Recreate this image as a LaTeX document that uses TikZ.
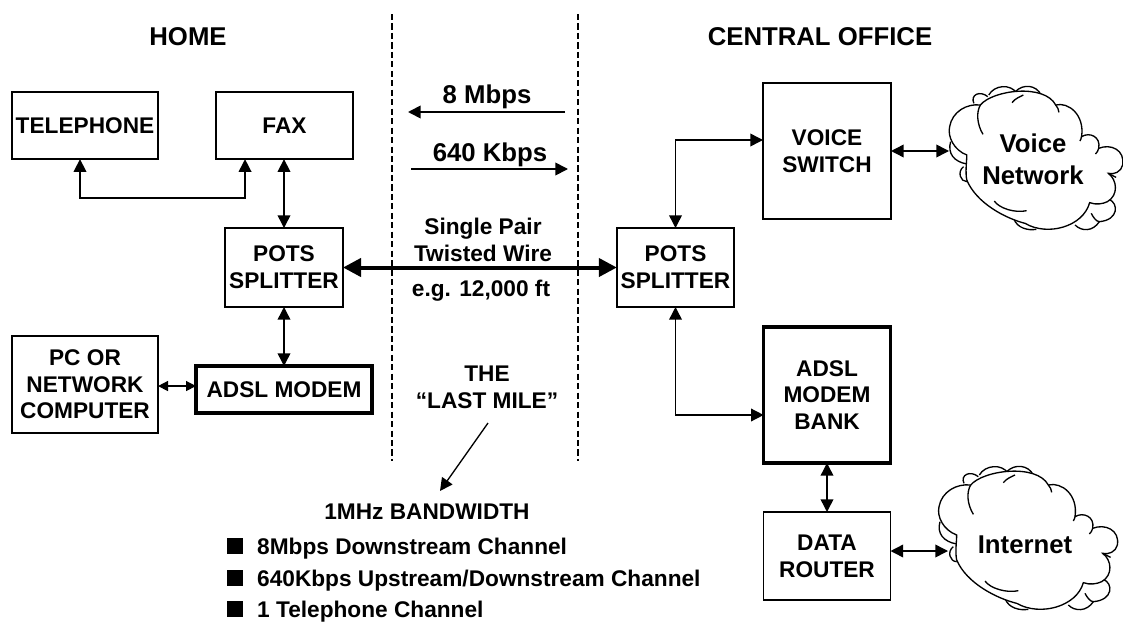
\documentclass[tikz,border=0pt]{standalone}
\usepackage{fontspec}
\setmainfont{Liberation Sans}
\usetikzlibrary{arrows.meta, positioning}

\tikzset{
    cloudpic/.pic={
        \begin{scope}[x=0.25pt, y=-0.25pt, line width=1pt, fill=white]
        % Lobulos de fondo
        \draw (672,190) .. controls (660,165) and (690,150) .. (715,170);
        \draw (718,165) .. controls (735,135) and (785,130) .. (805,160);
        \draw (800,155) .. controls (825,130) and (865,135) .. (880,165);
        \draw (600,305) .. controls (590,340) and (610,365) .. (650,372);
        \draw (640,380) .. controls (620,395) and (630,425) .. (650,425);
        \draw (795,535) .. controls (805,565) and (840,572) .. (865,568);
        \draw (985,555) .. controls (1005,575) and (1040,575) .. (1060,545);
        \draw (1090,478) .. controls (1120,490) and (1120,540) .. (1060,545) .. controls (1050,545) and (1040,530) .. (1035,520);
        % Cuerpo
        \filldraw (650,345) .. controls (610,330) and (590,290) .. (597,260)
            .. controls (605,215) and (650,190) .. (692,195)
            .. controls (730,150) and (890,130) .. (925,195)
            .. controls (965,185) and (1015,225) .. (1005,290)
            .. controls (1030,275) and (1065,290) .. (1058,325)
            .. controls (1095,310) and (1140,330) .. (1132,375)
            .. controls (1128,395) and (1105,405) .. (1088,400)
            .. controls (1115,420) and (1120,465) .. (1085,485)
            .. controls (1070,492) and (1050,495) .. (1030,488)
            .. controls (1010,560) and (900,590) .. (830,550)
            .. controls (770,535) and (680,490) .. (650,420)
            .. controls (645,395) and (650,365) .. (650,345) -- cycle;
        % Detalles
        \draw (700,283) .. controls (680,250) and (680,215) .. (692,195);
        \draw (790,188) .. controls (800,175) and (815,170) .. (825,165);
        \draw (925,195) .. controls (930,200) and (935,210) .. (935,217);
        \draw (1005,290) .. controls (1004,295) and (1002,300) .. (1000,303);
        \draw (1058,325) .. controls (1056,332) and (1053,338) .. (1048,342);
        \draw (1088,400) .. controls (1095,405) and (1105,408) .. (1112,412);
        \draw (735,483) .. controls (750,505) and (800,520) .. (835,512);
        \end{scope}
    }
}

\begin{document}
\begin{tikzpicture}[
    x=0.75pt, y=-0.75pt,
    >={Triangle[length=9.5pt, width=9.5pt]},
    font=\bfseries\fontsize{17}{20}\selectfont,
    box/.style={draw, rectangle, align=center, inner sep=0pt, outer sep=0pt, line width=1.1pt},
    thickbox/.style={box, line width=2.6pt},
    label/.style={align=center, inner sep=0pt},
    biglabel/.style={label, font=\bfseries\fontsize{19.3}{24}\selectfont},
    bullet/.style={fill=black, inner sep=0pt, minimum size=11.5pt},
    listitem/.style={label, text depth=0pt},
    arrow/.style={<->, line width=1.1pt},
    smallarrow/.style={{Triangle[length=7.5pt, width=7.5pt]}-{Triangle[length=7.5pt, width=7.5pt]}, line width=1.1pt},
    oneway/.style={->, line width=1.3pt},
    wire/.style={{Triangle[length=13.5pt, width=13.5pt]}-{Triangle[length=13.5pt, width=13.5pt]}, line width=3pt},
    divider/.style={line width=1.1pt, dash pattern=on 4.6pt off 2.5pt}
]
\useasboundingbox (0,0) rectangle (1123,621);

% Nodos casa
\node (tel) [box, minimum width=109.5pt, minimum height=50.5pt] at (85,125.5) {TELEPHONE};
\node (fax) [box, minimum width=102.75pt, minimum height=50.5pt, right=43.5pt of tel] {FAX};
\node (potsl) [box, minimum width=88.5pt, minimum height=59.25pt] at (284,267.5) {POTS\\SPLITTER};
\node (pc) [box, minimum width=109.5pt, minimum height=72.75pt] at (85,384.5) {PC OR\\NETWORK\\COMPUTER};
\node (modem) [thickbox, minimum width=132pt, minimum height=35.25pt] at (284,389.5) {ADSL MODEM};

% Nodos central
\node (vswitch) [box, minimum width=96pt, minimum height=102pt] at (827,151) {VOICE\\SWITCH};
\node (potsr) [box, minimum width=88pt, minimum height=59.25pt] at (675.5,267.5) {POTS\\SPLITTER};
\node (bank) [thickbox, minimum width=95pt, minimum height=102pt, below=81pt of vswitch] {ADSL\\MODEM\\BANK};
\node (router) [box, minimum width=95.25pt, minimum height=66pt, below=36.75pt of bank] {DATA\\ROUTER};

% Nubes
\pic [xscale=0.97] at (756.6,40) {cloudpic};
\pic at (740,420) {cloudpic};
\node (vnet) [biglabel] at (1033,159) {Voice\\Network};
\node (inet) [biglabel] at (1025,545) {Internet};
\coordinate (vnetin) at (949,151);
\coordinate (inetin) at (948,551);

% Textos
\node (home) [biglabel] at (188,37) {HOME};
\node (office) [biglabel] at (820,37) {CENTRAL OFFICE};
\node (down) [biglabel] at (487,97) {8 Mbps};
\node (up) [biglabel] at (490,155) {640 Kbps};
\node (pair) [label] at (483,240) {Single Pair\\Twisted Wire};
\node (length) [label] at (481,291) {e.g. 12,000 ft};
\node (mile) [label] at (487,387) {THE\\``LAST MILE''};
\node (band) [label] at (427,512) {1MHz BANDWIDTH};
\node (b1) [bullet] at (235,546) {};
\node (b2) [bullet] at (235,578) {};
\node (b3) [bullet] at (235,609) {};
\node (c1) [listitem, right=10.5pt of b1] {8Mbps Downstream Channel};
\node (c2) [listitem, right=10.5pt of b2] {640Kbps Upstream/Downstream Channel};
\node (c3) [listitem, right=10.5pt of b3] {1 Telephone Channel};

% Divisiones
\coordinate (dlt) at (392,14);
\coordinate (dlb) at (392,461);
\coordinate (drt) at (578,14);
\coordinate (drb) at (578,461);
\draw [divider] (dlt) -- (dlb);
\draw [divider] (drt) -- (drb);

% Flechas
\coordinate (downa) at (565,112);
\coordinate (downb) at (408,112);
\coordinate (upa) at (411,169);
\coordinate (upb) at (568,169);
\coordinate (pcport) at ([yshift=2.6pt]modem.west);
\draw [oneway] (downa) -- (downb);
\draw [oneway] (upa) -- (upb);
\draw [wire] (potsl) -- (potsr);
\draw [arrow] ([xshift=-3.75pt]tel.south) -- ++(0,39) -| ([xshift=-29.6pt]fax.south);
\draw [arrow] (fax.south -| potsl) -- (potsl.north);
\draw [arrow] (potsl.south) -- (modem.north);
\draw [smallarrow] (pcport -| pc.east) -- (pcport);
\draw [arrow] (potsr.north) |- ([yshift=8.25pt]vswitch.west);
\draw [arrow] (potsr.south) |- ([yshift=-15pt]bank.west);
\draw [arrow] (vswitch.east) -- (vnetin);
\draw [arrow] (bank) -- (router);
\draw [arrow] ([yshift=3.75pt]router.east) -- (inetin);
\coordinate (milefrom) at (488,423);
\coordinate (mileto) at (440,491);
\draw [oneway, line width=1pt] (milefrom) -- (mileto);

\end{tikzpicture}
\end{document}
